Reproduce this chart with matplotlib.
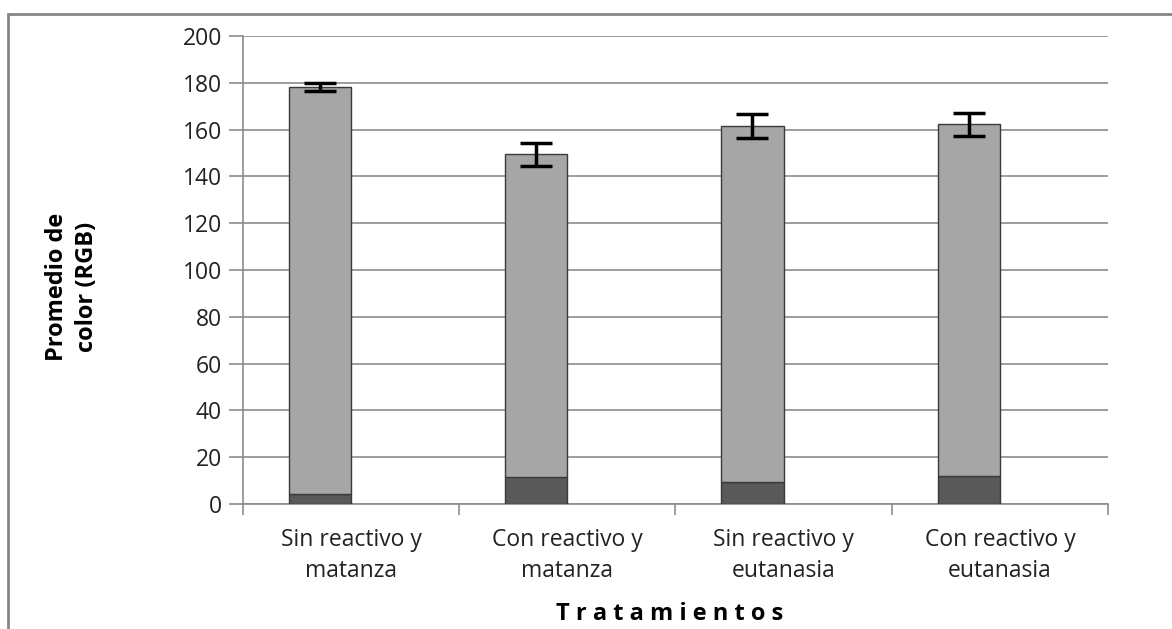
import matplotlib
matplotlib.use('Agg')
import matplotlib.pyplot as plt
from matplotlib.patches import Rectangle
import numpy as np

# Datos
categorias = ['Sin reactivo y\nmatanza', 'Con reactivo y\nmatanza',
              'Sin reactivo y\neutanasia', 'Con reactivo y\neutanasia']
parte_oscura = [4.4, 11.7, 9.5, 12.1]
total = [178.3, 149.4, 161.5, 162.3]
error = [1.7, 4.8, 5.0, 4.9]
parte_clara = [t - o for t, o in zip(total, parte_oscura)]

plt.rcParams['font.family'] = ['Open Sans', 'DejaVu Sans']

fig = plt.figure(figsize=(11.72, 6.29), dpi=100)
ax = fig.add_axes([0.2073, 0.1987, 0.7381, 0.7441])

x = np.arange(len(categorias))
pos = x - 0.144
ancho = 0.287

ax.bar(pos, parte_oscura, width=ancho, color='#595959', edgecolor='#3a3a3a',
       linewidth=1, zorder=3)
ax.bar(pos, parte_clara, width=ancho, bottom=parte_oscura, color='#a6a6a6',
       edgecolor='#3a3a3a', linewidth=1, zorder=3)
ax.errorbar(pos, total, yerr=error, fmt='none', ecolor='black', elinewidth=2.5,
            capsize=11.5, capthick=2.5, zorder=4)

ax.set_xlim(-0.5, 3.5)
ax.set_ylim(0, 200)
ax.set_yticks(range(0, 201, 20))
ax.yaxis.grid(True, color='#8c8c8c', linewidth=1.2, zorder=0)
ax.set_xticks([-0.5, 0.5, 1.5, 2.5, 3.5])
ax.set_xticklabels([])
ax.set_xticks(x, minor=True)
ax.set_xticklabels(categorias, minor=True, fontsize=16.5, color='#222222',
                   linespacing=1.4)
ax.tick_params(axis='x', which='minor', length=0, pad=17)
ax.tick_params(axis='x', which='major', length=8, color='#8c8c8c', width=1.2)
ax.tick_params(axis='y', length=10, color='#8c8c8c', width=1.2,
               labelsize=16.5, labelcolor='#222222', pad=5)

for lado in ['top', 'right']:
    ax.spines[lado].set_visible(False)
for lado in ['left', 'bottom']:
    ax.spines[lado].set_color('#8c8c8c')
    ax.spines[lado].set_linewidth(1.2)

fig.text(72 / 1172, 0.544, 'Promedio de\ncolor (RGB)', rotation=90,
         ha='center', va='center', fontsize=17, fontweight='bold',
         linespacing=1.3)
fig.text(670 / 1172, 1 - 614 / 629, 'T r a t a m i e n t o s', ha='center',
         va='center', fontsize=17, fontweight='bold')

# Borde del area del grafico
fig.patches.append(Rectangle((8 / 1172, -0.1), 1.2, 1 - 14 / 629 + 0.1,
                             transform=fig.transFigure, fill=False,
                             edgecolor='#868686', linewidth=2))

plt.savefig('out.png', dpi=100)
